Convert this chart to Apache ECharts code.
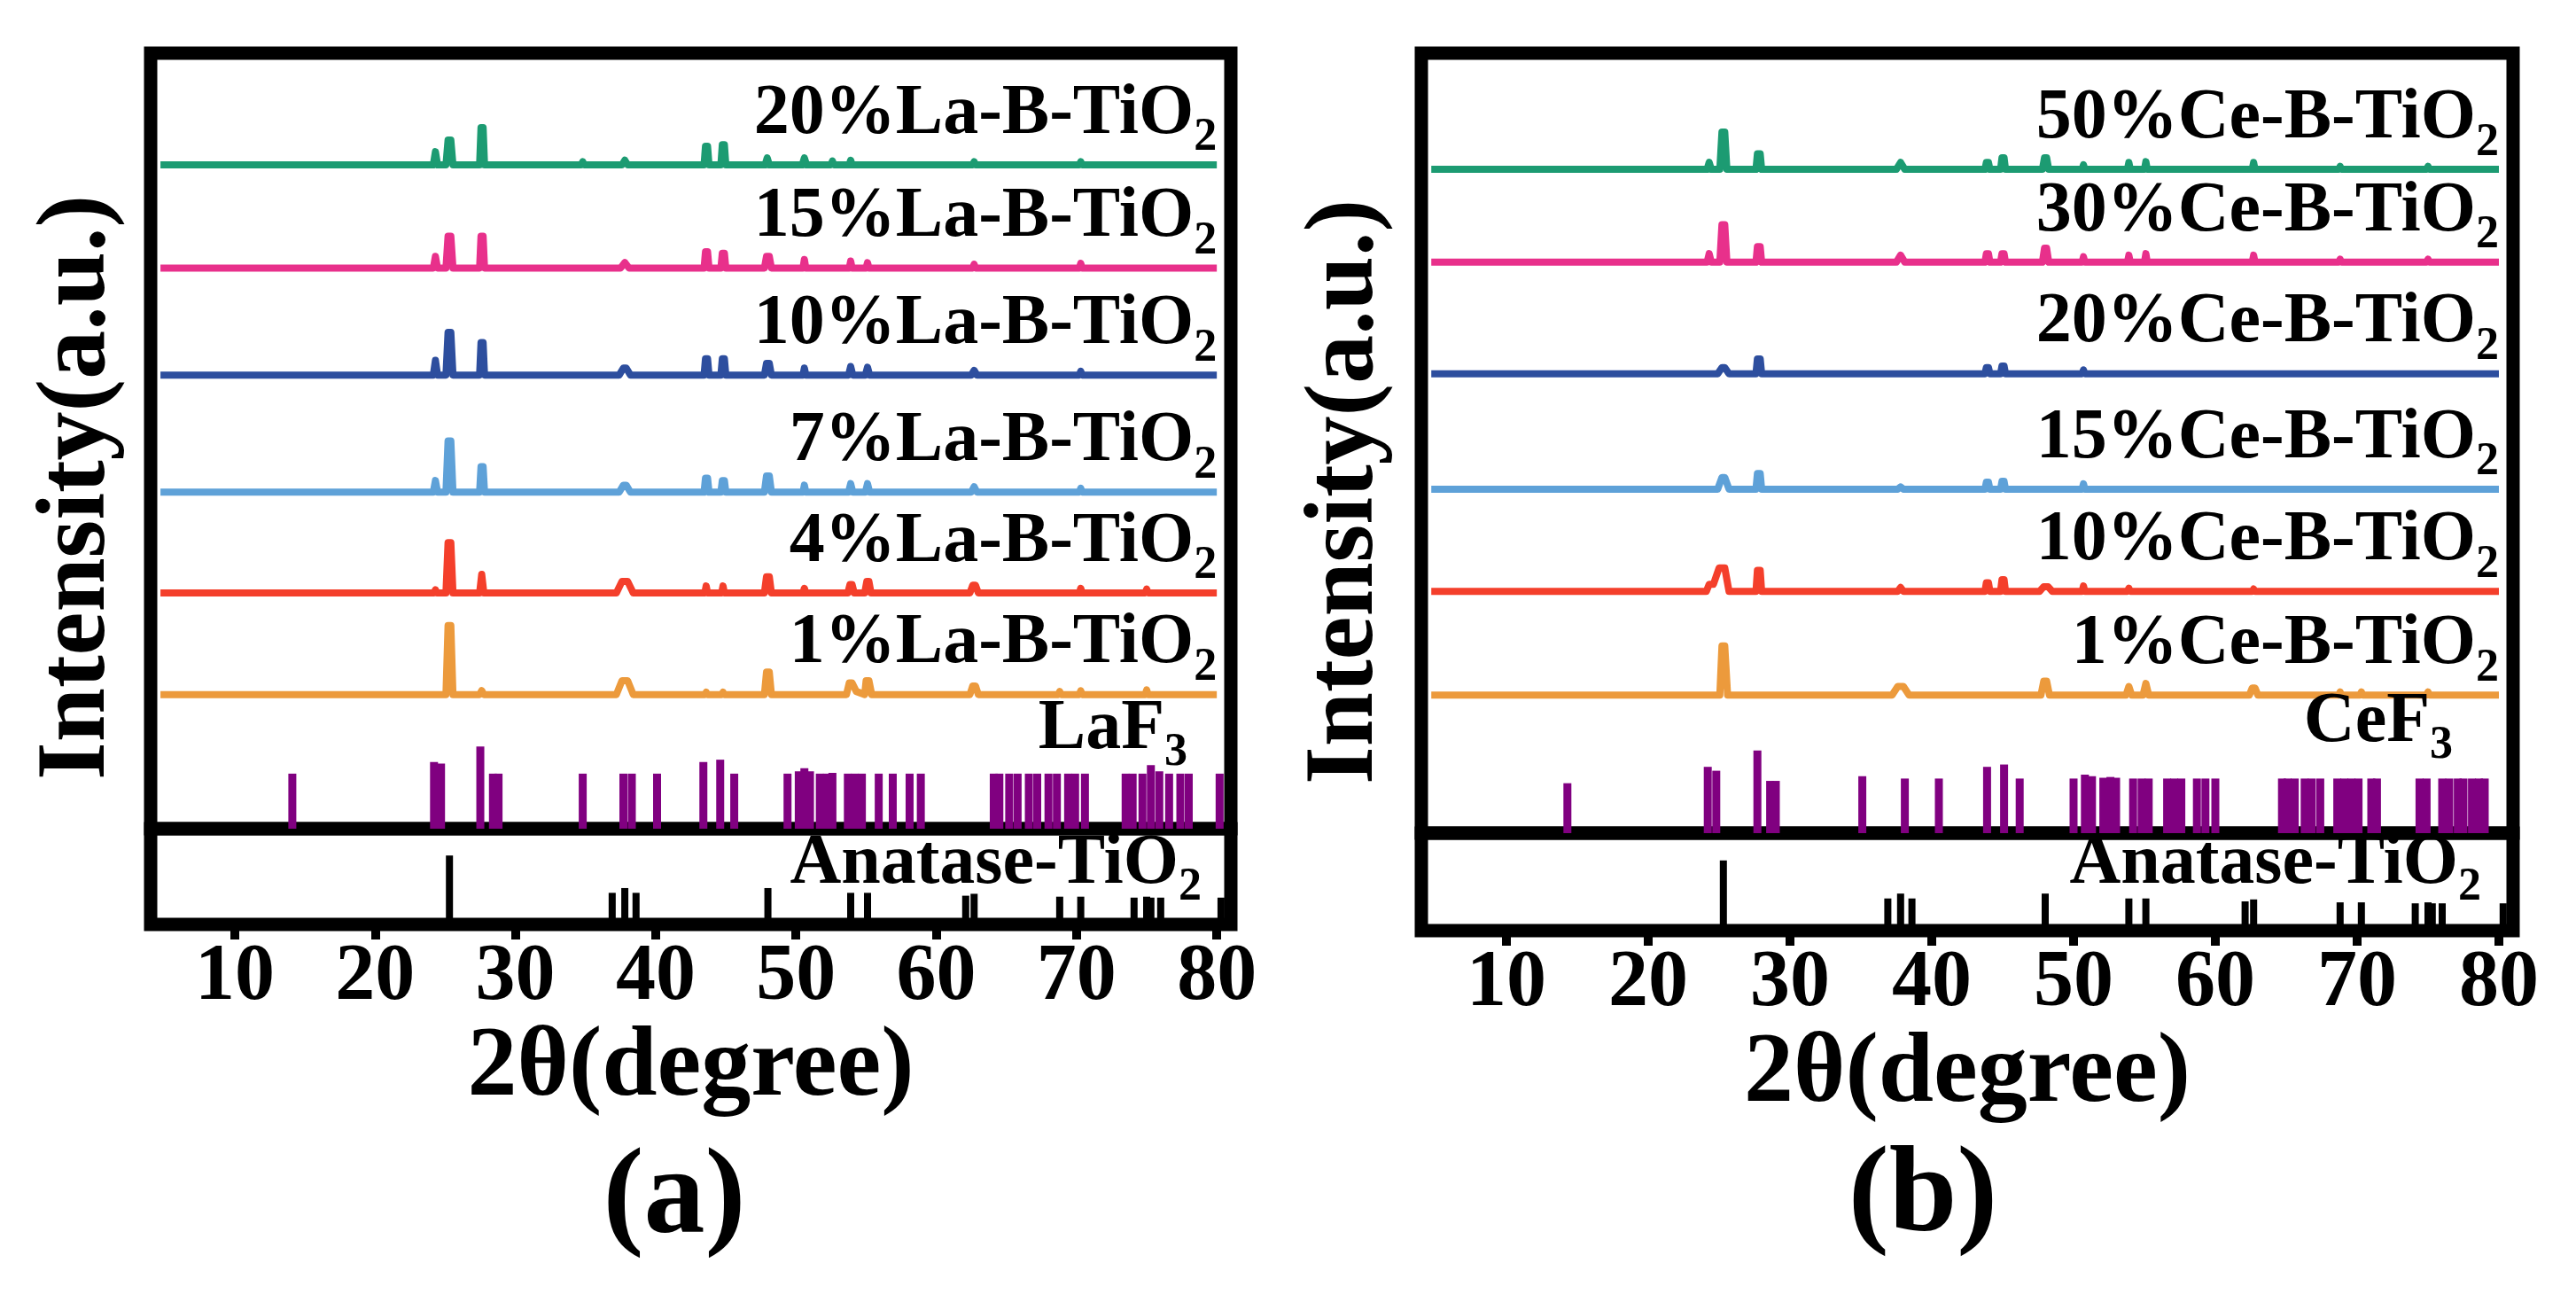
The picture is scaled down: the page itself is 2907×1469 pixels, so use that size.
<!DOCTYPE html>
<html>
<head>
<meta charset="utf-8">
<script src="https://cdn.jsdelivr.net/npm/echarts@6/dist/echarts.min.js"></script>
<style>
html, body { margin: 0; padding: 0; background: #fff; }
#xrd { width: 2907px; height: 1469px; }
</style>
</head>
<body>
<div id="xrd"></div>
<script>
// tick labels on the 2theta axis
var xTicks = [10, 20, 30, 40, 50, 60, 70, 80];

// sample names, bottom to top
var laNames = ['1%La-B-TiO2', '4%La-B-TiO2', '7%La-B-TiO2', '10%La-B-TiO2', '15%La-B-TiO2', '20%La-B-TiO2'];
var ceNames = ['1%Ce-B-TiO2', '10%Ce-B-TiO2', '15%Ce-B-TiO2', '20%Ce-B-TiO2', '30%Ce-B-TiO2', '50%Ce-B-TiO2'];
var laOffsets = [17.3, 30.4, 43.4, 58.5, 72.3, 85.6];
var ceOffsets = [17.7, 31.0, 44.1, 58.9, 73.2, 85.1];

// measured patterns [2theta, intensity above own baseline]
var la1 = [[4.7,0],[25.05,0],[25.2,8.9],[25.4,8.9],[25.55,0],[27.45,0],[27.6,0.5],[27.75,0],[37.2,0],[37.6,1.8],[38.0,1.8],[38.4,0],[43.5,0],[43.6,0.3],[43.7,0],[44.7,0],[44.8,0.3],[44.9,0],[47.75,0],[47.9,2.9],[48.1,2.9],[48.25,0],[53.6,0],[53.8,1.5],[54.0,1.5],[54.3,0.4],[54.9,0],[55.0,1.8],[55.2,1.8],[55.4,0],[62.4,0],[62.6,1.1],[62.8,1.1],[63.0,0],[68.7,0],[68.8,0.4],[68.9,0],[70.2,0],[70.3,0.5],[70.4,0],[74.9,0],[75.0,0.6],[75.1,0],[80,0]];
var la4 = [[4.7,0],[24.2,0],[24.3,0.4],[24.4,0],[25.05,0],[25.2,6.5],[25.4,6.5],[25.55,0],[27.45,0],[27.6,2.4],[27.75,0],[37.2,0],[37.6,1.5],[38.0,1.5],[38.4,0],[43.5,0],[43.6,0.9],[43.7,0],[44.7,0],[44.8,0.9],[44.9,0],[47.75,0],[47.9,2.1],[48.1,2.1],[48.25,0],[50.5,0],[50.6,0.6],[50.7,0],[53.7,0],[53.85,1.1],[54.0,1.1],[54.15,0],[54.9,0],[55.05,1.5],[55.2,1.5],[55.35,0],[62.4,0],[62.6,1.0],[62.8,1.0],[63.0,0],[70.2,0],[70.3,0.6],[70.4,0],[74.9,0],[75.0,0.5],[75.1,0],[80,0]];
var la7 = [[4.7,0],[24.15,0],[24.3,1.5],[24.45,0],[25.05,0],[25.2,6.6],[25.4,6.6],[25.55,0],[27.45,0],[27.55,3.3],[27.7,3.3],[27.8,0],[37.4,0],[37.7,0.9],[37.9,0.9],[38.2,0],[43.45,0],[43.55,1.8],[43.7,1.8],[43.8,0],[44.65,0],[44.75,1.5],[44.9,1.5],[45.0,0],[47.75,0],[47.9,2.1],[48.1,2.1],[48.25,0],[50.5,0],[50.6,0.9],[50.7,0],[53.75,0],[53.9,1.1],[54.05,0],[54.95,0],[55.1,1.1],[55.25,0],[62.5,0],[62.7,0.7],[62.9,0],[70.2,0],[70.3,0.5],[70.4,0],[80,0]];
var la10 = [[4.7,0],[24.15,0],[24.3,1.9],[24.45,0],[25.05,0],[25.2,5.5],[25.4,5.5],[25.55,0],[27.45,0],[27.55,4.2],[27.7,4.2],[27.8,0],[37.4,0],[37.7,0.9],[37.9,0.9],[38.2,0],[43.45,0],[43.55,2.1],[43.7,2.1],[43.8,0],[44.65,0],[44.75,2.1],[44.9,2.1],[45.0,0],[47.75,0],[47.9,1.5],[48.1,1.5],[48.25,0],[50.5,0],[50.6,0.9],[50.7,0],[53.75,0],[53.9,1.1],[54.05,0],[54.95,0],[55.1,1.0],[55.25,0],[62.5,0],[62.7,0.6],[62.9,0],[70.2,0],[70.3,0.5],[70.4,0],[80,0]];
var la15 = [[4.7,0],[24.15,0],[24.3,1.5],[24.45,0],[25.05,0],[25.2,4.1],[25.4,4.1],[25.55,0],[27.45,0],[27.55,4.1],[27.7,4.1],[27.8,0],[37.5,0],[37.8,0.7],[38.1,0],[43.45,0],[43.55,2.1],[43.7,2.1],[43.8,0],[44.65,0],[44.75,1.9],[44.9,1.9],[45.0,0],[47.75,0],[47.9,1.5],[48.1,1.5],[48.25,0],[50.5,0],[50.6,1.1],[50.7,0],[53.8,0],[53.9,0.9],[54.0,0],[55.0,0],[55.1,0.7],[55.2,0],[62.6,0],[62.7,0.5],[62.8,0],[70.2,0],[70.3,0.6],[70.4,0],[80,0]];
var la20 = [[4.7,0],[24.15,0],[24.3,1.7],[24.45,0],[25.05,0],[25.2,3.2],[25.4,3.2],[25.55,0],[27.45,0],[27.55,4.8],[27.7,4.8],[27.8,0],[34.7,0],[34.8,0.4],[34.9,0],[37.6,0],[37.8,0.6],[38.0,0],[43.45,0],[43.55,2.4],[43.7,2.4],[43.8,0],[44.65,0],[44.75,2.6],[44.9,2.6],[45.0,0],[47.8,0],[47.95,0.9],[48.1,0],[50.45,0],[50.6,0.9],[50.75,0],[52.5,0],[52.6,0.5],[52.7,0],[53.8,0],[53.9,0.6],[54.0,0],[62.6,0],[62.7,0.4],[62.8,0],[70.2,0],[70.3,0.4],[70.4,0],[80,0]];

var ce1 = [[4.7,0],[25.05,0],[25.2,6.3],[25.4,6.3],[25.6,0],[37.2,0],[37.6,1.1],[38.0,1.1],[38.4,0],[47.7,0],[47.9,1.8],[48.1,1.8],[48.3,0],[53.7,0],[53.9,1.1],[54.1,0],[54.9,0],[55.1,1.5],[55.3,0],[62.4,0],[62.6,0.9],[62.8,0.9],[63.0,0],[68.7,0],[68.8,0.4],[68.9,0],[70.2,0],[70.3,0.4],[70.4,0],[74.9,0],[75.0,0.4],[75.1,0],[80,0]];
var ce10 = [[4.7,0],[24.1,0],[24.3,0.9],[24.6,0.9],[25.0,3.0],[25.4,3.0],[25.7,0],[27.6,0],[27.7,2.7],[27.9,2.7],[28.0,0],[37.6,0],[37.8,0.5],[38.0,0],[43.75,0],[43.85,1.1],[44.0,1.1],[44.1,0],[44.85,0],[44.95,1.5],[45.1,1.5],[45.2,0],[47.6,0],[47.9,0.6],[48.2,0.6],[48.5,0],[50.6,0],[50.7,0.7],[50.8,0],[53.8,0],[53.9,0.4],[54.0,0],[62.6,0],[62.7,0.3],[62.8,0],[80,0]];
var ce15 = [[4.7,0],[24.9,0],[25.2,1.5],[25.4,1.5],[25.7,0],[27.6,0],[27.7,2.0],[27.9,2.0],[28.0,0],[37.6,0],[37.8,0.3],[38.0,0],[43.75,0],[43.85,0.9],[44.0,0.9],[44.1,0],[44.85,0],[44.95,1.0],[45.1,1.0],[45.2,0],[50.6,0],[50.7,0.7],[50.8,0],[80,0]];
var ce20 = [[4.7,0],[24.9,0],[25.2,0.8],[25.4,0.8],[25.7,0],[27.6,0],[27.7,1.9],[27.9,1.9],[28.0,0],[43.75,0],[43.85,0.8],[44.0,0.8],[44.1,0],[44.85,0],[44.95,1.0],[45.1,1.0],[45.2,0],[50.6,0],[50.7,0.5],[50.8,0],[80,0]];
var ce30 = [[4.7,0],[24.15,0],[24.3,1.1],[24.45,0],[25.05,0],[25.2,4.8],[25.4,4.8],[25.55,0],[27.6,0],[27.7,2.0],[27.9,2.0],[28.0,0],[37.5,0],[37.8,0.9],[38.1,0],[43.75,0],[43.85,1.1],[44.0,1.1],[44.1,0],[44.85,0],[44.95,1.1],[45.1,1.1],[45.2,0],[47.8,0],[47.95,1.8],[48.1,1.8],[48.25,0],[50.6,0],[50.7,0.7],[50.8,0],[53.8,0],[53.9,0.9],[54.0,0],[55.0,0],[55.1,1.1],[55.2,0],[62.6,0],[62.7,0.9],[62.8,0],[68.7,0],[68.8,0.4],[68.9,0],[74.9,0],[75.0,0.4],[75.1,0],[80,0]];
var ce50 = [[4.7,0],[24.15,0],[24.3,0.9],[24.45,0],[25.05,0],[25.2,4.8],[25.4,4.8],[25.55,0],[27.6,0],[27.7,2.0],[27.9,2.0],[28.0,0],[37.5,0],[37.8,0.9],[38.1,0],[43.75,0],[43.85,0.9],[44.0,0.9],[44.1,0],[44.85,0],[44.95,1.5],[45.1,1.5],[45.2,0],[47.8,0],[47.95,1.5],[48.1,1.5],[48.25,0],[50.6,0],[50.7,0.6],[50.8,0],[53.8,0],[53.9,0.9],[54.0,0],[55.0,0],[55.1,1.0],[55.2,0],[62.6,0],[62.7,0.9],[62.8,0],[68.7,0],[68.8,0.4],[68.9,0],[74.9,0],[75.0,0.4],[75.1,0],[80,0]];

// reference stick patterns [2theta, relative intensity]
var laf3Sticks = [[14.1,7.1],[24.2,8.6],[24.7,8.4],[27.5,10.6],[28.4,7.1],[28.8,7.1],[34.8,7.1],[37.7,7.1],[38.3,7.1],[40.1,7.1],[43.4,8.6],[44.6,8.9],[45.6,7.1],[49.4,7.1],[50.2,7.4],[50.6,7.8],[51.0,7.4],[51.7,7.1],[52.2,7.1],[52.6,7.2],[53.7,7.1],[54.2,7.1],[54.7,7.1],[55.9,7.1],[56.9,7.1],[58.1,7.1],[58.9,7.1],[64.1,7.1],[64.5,7.1],[65.2,7.1],[65.8,7.1],[66.6,7.1],[67.2,7.1],[68.0,7.1],[68.6,7.1],[69.4,7.1],[69.9,7.1],[70.6,7.1],[73.5,7.1],[74.0,7.1],[74.7,7.1],[75.3,8.2],[75.9,7.4],[76.6,7.1],[77.4,7.1],[78.0,7.1],[80.2,7.1]];
var cef3Sticks = [[14.3,6.4],[24.2,8.5],[24.8,8.0],[27.7,10.6],[28.6,6.7],[29.0,6.7],[35.1,7.3],[38.1,7.0],[40.5,7.0],[43.9,8.5],[45.1,8.8],[46.2,7.0],[50.0,7.0],[50.8,7.5],[51.3,7.3],[52.1,7.1],[52.6,7.2],[53.0,7.1],[54.2,7.0],[54.8,7.0],[55.3,7.0],[56.6,7.0],[57.1,7.0],[57.6,7.0],[58.7,7.0],[59.3,7.0],[60.0,7.0],[64.7,7.0],[65.1,7.0],[65.6,7.0],[66.3,7.0],[66.8,7.0],[67.4,7.0],[68.6,7.0],[69.1,7.0],[69.6,7.0],[70.1,7.0],[71.0,7.0],[71.4,7.0],[74.4,7.0],[74.9,7.0],[76.0,7.0],[76.5,7.0],[77.1,7.0],[77.5,7.0],[78.1,7.0],[78.6,7.0],[79.0,7.0]];
var anataseSticks = [[25.3,72],[36.9,33],[37.8,38],[38.6,33],[48.0,38],[53.9,33],[55.1,33],[62.1,30],[62.7,32],[68.8,29],[70.3,29],[74.1,28],[75.0,29],[75.3,28],[76.0,28],[80.3,28]];

var traceColors = ['#ec9a3c', '#f43f2b', '#5ea1d8', '#2d4e9e', '#e8308b', '#1c9b72'];
var font = 'Liberation Serif';

var panels = [
  { traces: [la1, la4, la7, la10, la15, la20], names: laNames, offsets: laOffsets, sticks: laf3Sticks,
    top: { left: 170, top: 60, width: 1219, height: 875 }, bottom: { left: 170, top: 935, width: 1219, height: 108 },
    phase: 'LaF3', phasePos: [1340, 823], anatasePos: [1356, 975], yTitle: [89, 550], letter: '(a)', letterPos: [761, 1354], nameGap: 75 },
  { traces: [ce1, ce10, ce15, ce20, ce30, ce50], names: ceNames, offsets: ceOffsets, sticks: cef3Sticks,
    top: { left: 1604, top: 60, width: 1232, height: 880 }, bottom: { left: 1604, top: 940, width: 1232, height: 110 },
    phase: 'CeF3', phasePos: [2768, 815], anatasePos: [2800, 975], yTitle: [1520, 555], letter: '(b)', letterPos: [2170, 1352], nameGap: 76 }
];

var richStyle = {
  n: { fontFamily: font, fontWeight: 'bold', fontSize: 80, lineHeight: 80, color: '#000' },
  s: { fontFamily: font, fontWeight: 'bold', fontSize: 52, lineHeight: 80, padding: [54, 0, 0, 0], color: '#000' }
};
function subText(name) {
  return '{n|' + name.slice(0, -1) + '}{s|' + name.slice(-1) + '}';
}

var grids = [], xAxes = [], yAxes = [], series = [];
panels.forEach(function (p, pi) {
  var gTop = pi * 2, gBot = pi * 2 + 1;
  [p.top, p.bottom].forEach(function (g) {
    grids.push({ left: g.left, top: g.top, width: g.width, height: g.height, show: true,
      borderColor: '#000', borderWidth: 15, backgroundColor: 'transparent', containLabel: false });
  });
  xAxes.push({ gridIndex: gTop, type: 'value', min: 4, max: 81, show: false });
  xAxes.push({
    gridIndex: gBot, type: 'value', min: 4, max: 81,
    name: '2θ(degree)', nameLocation: 'middle', nameGap: p.nameGap,
    nameTextStyle: { fontFamily: font, fontWeight: 'bold', fontSize: 112, color: '#000' },
    axisLine: { show: false },
    axisTick: { show: true, inside: false, length: 17, customValues: xTicks, lineStyle: { color: '#000', width: 10 } },
    axisLabel: { show: true, margin: 16, customValues: xTicks, fontFamily: font, fontWeight: 'bold', fontSize: 90, color: '#000' },
    splitLine: { show: false }
  });
  yAxes.push({ gridIndex: gTop, type: 'value', min: 0, max: 100, show: false });
  yAxes.push({ gridIndex: gBot, type: 'value', min: 0, max: 100, show: false });

  p.traces.forEach(function (tr, i) {
    series.push({
      type: 'line', name: p.names[i], xAxisIndex: gTop, yAxisIndex: gTop,
      data: tr.map(function (d) { return [d[0], d[1] + p.offsets[i]]; }),
      showSymbol: false, symbol: 'none', animation: false,
      lineStyle: { color: traceColors[i], width: 8, join: 'round' },
      itemStyle: { color: traceColors[i] }
    });
  });
  series.push({
    type: 'bar', name: p.phase, xAxisIndex: gTop, yAxisIndex: gTop, data: p.sticks,
    barWidth: 9, animation: false, itemStyle: { color: '#800080' }
  });
  series.push({
    type: 'bar', name: 'Anatase-TiO2', xAxisIndex: gBot, yAxisIndex: gBot, data: anataseSticks,
    barWidth: 8, animation: false, itemStyle: { color: '#000' }
  });
});

var chartElement = document.getElementById('xrd');
var mychart = echarts.init(chartElement);
mychart.setOption({
  backgroundColor: '#fff',
  animation: false,
  grid: grids,
  xAxis: xAxes,
  yAxis: yAxes,
  series: series
});

// text annotations, trace labels anchored through the axes
var graphics = [];
panels.forEach(function (p, pi) {
  p.traces.forEach(function (tr, i) {
    var last = tr[tr.length - 1];
    var pt = mychart.convertToPixel({ xAxisIndex: pi * 2, yAxisIndex: pi * 2 }, [last[0], p.offsets[i]]);
    graphics.push({ type: 'text', x: pt[0], y: pt[1] - 57, z: 100,
      style: { text: subText(p.names[i]), rich: richStyle, align: 'right', verticalAlign: 'middle' } });
  });
  graphics.push({ type: 'text', x: p.phasePos[0], y: p.phasePos[1], z: 100,
    style: { text: subText(p.phase), rich: richStyle, align: 'right', verticalAlign: 'middle' } });
  graphics.push({ type: 'text', x: p.anatasePos[0], y: p.anatasePos[1], z: 100,
    style: { text: subText('Anatase-TiO2'), rich: richStyle, align: 'right', verticalAlign: 'middle' } });
  graphics.push({ type: 'text', x: p.yTitle[0], y: p.yTitle[1], rotation: Math.PI / 2, z: 100,
    style: { text: 'Intensity(a.u.)', fontFamily: font, fontWeight: 'bold', fontSize: 110, fill: '#000',
      align: 'center', verticalAlign: 'middle' } });
  graphics.push({ type: 'text', x: p.letterPos[0], y: p.letterPos[1], z: 100,
    style: { text: p.letter, fontFamily: font, fontWeight: 'bold', fontSize: 138, fill: '#000',
      align: 'center', verticalAlign: 'middle' } });
});
mychart.setOption({ graphic: graphics });
</script>
</body>
</html>
